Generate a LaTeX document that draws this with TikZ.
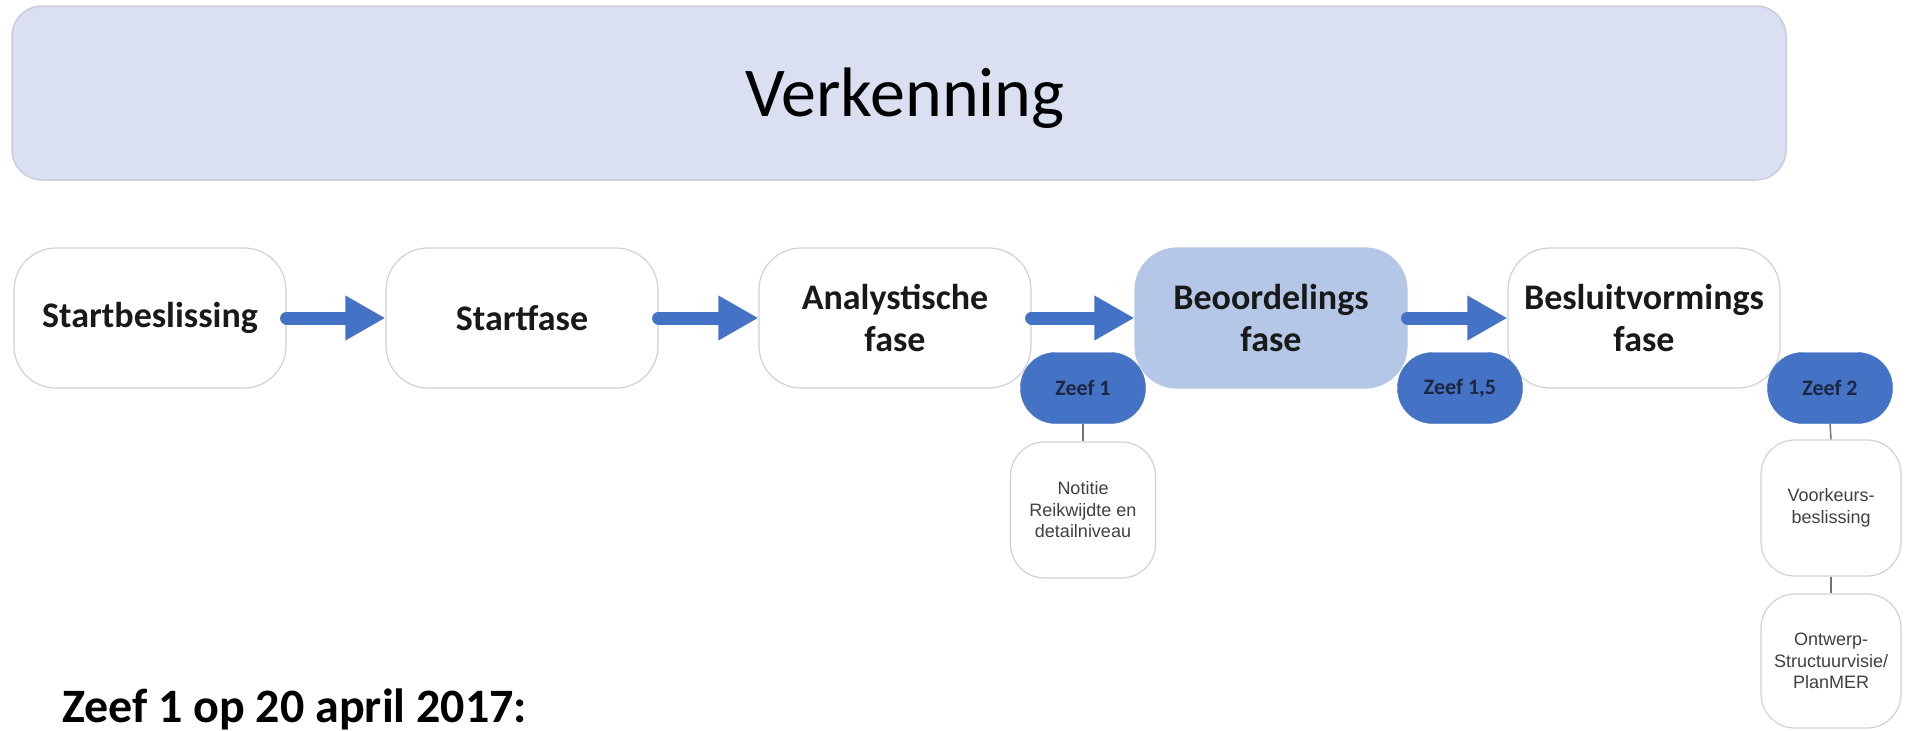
\documentclass[tikz,border=0pt]{standalone}
\usepackage{fontspec}
\setmainfont{Carlito}
\newfontfamily\notefont{Liberation Sans}
\usetikzlibrary{arrows.meta}
\definecolor{zeefblauw}{HTML}{4472C4}
\definecolor{beoordeling}{HTML}{B4C7E7}
\definecolor{verkfill}{HTML}{DAE0F1}
\definecolor{verkrand}{HTML}{C9CEDD}
\definecolor{donkerblauw}{HTML}{1C2640}
\definecolor{tekstgrijs}{HTML}{404040}

\begin{document}
\begin{tikzpicture}[x=1pt,y=-1pt,
  fase/.style={draw=black!18, line width=1.2pt, rounded corners=42pt, minimum width=272pt, minimum height=140pt, inner sep=0pt, align=center, text=black!90, font=\fontsize{36}{42}\selectfont\bfseries},
  zeef/.style={fill=zeefblauw, draw=zeefblauw, rounded corners=35pt, minimum width=125pt, minimum height=71pt, inner sep=0pt, text=donkerblauw, font=\fontsize{22}{26}\selectfont\bfseries},
  notitie/.style={draw=black!18, line width=1.2pt, rounded corners=34pt, minimum width=140pt, minimum height=136pt, inner sep=0pt, align=center, text=tekstgrijs, font=\notefont\fontsize{18}{21.5}\selectfont},
  pijl/.style={zeefblauw, line width=13pt, line cap=round, -{Triangle[length=40pt,width=42pt]}},
  lijn/.style={draw=black!55, line width=1.5pt}]
\useasboundingbox (0,0) rectangle (1912,731);

\node[draw=verkrand, fill=verkfill, line width=1.5pt, rounded corners=30pt, minimum width=1774pt, minimum height=174pt, inner sep=0pt] (verk) at (899,93) {};%de balk
\node[font=\fontsize{70}{82}\selectfont] (verktekst) at (905,98) {Verkenning};

\node[fase] (startb) at (150,318) {Startbeslissing};
\node[fase] (startf) at (522,318) {Startfase};
\node[fase] (analyse) at (895,318) {Analystische\\fase};
\node[fase, fill=beoordeling, draw=beoordeling] (beoord) at (1271,318) {Beoordelings\\fase};
\node[fase] (besluit) at (1644,318) {Besluitvormings\\fase};

\draw[pijl] (startb.east) -- (startf.west);
\draw[pijl] (startf.east) -- (analyse.west);
\draw[pijl] (analyse.east) -- (beoord.west);
\draw[pijl] (beoord.east) -- (besluit.west);

\node[zeef] (zeef1) at (1083,388) {Zeef 1};
\node[zeef] (zeef15) at (1460,388) {Zeef 1,5};
\node[zeef] (zeef2) at (1830,388) {Zeef 2};

\node[notitie, minimum width=145pt] (notitie) at (1083,510) {Notitie\\Reikwijdte en\\detailniveau};
\node[notitie] (voorkeur) at (1831,508) {Voorkeurs-\\beslissing};
\node[notitie, minimum height=134pt] (ontwerp) at (1831,661) {Ontwerp-\\Structuurvisie/\\PlanMER};

\draw[lijn] (zeef1.south) -- (notitie.north);
\draw[lijn] (zeef2.south) -- (voorkeur.north);
\draw[lijn] (voorkeur.south) -- (ontwerp.north);

\node[anchor=base west, inner sep=0pt, font=\fontsize{48}{56}\selectfont\bfseries] (datum) at (62,722) {Zeef 1 op 20 april 2017:};

\end{tikzpicture}
\end{document}
